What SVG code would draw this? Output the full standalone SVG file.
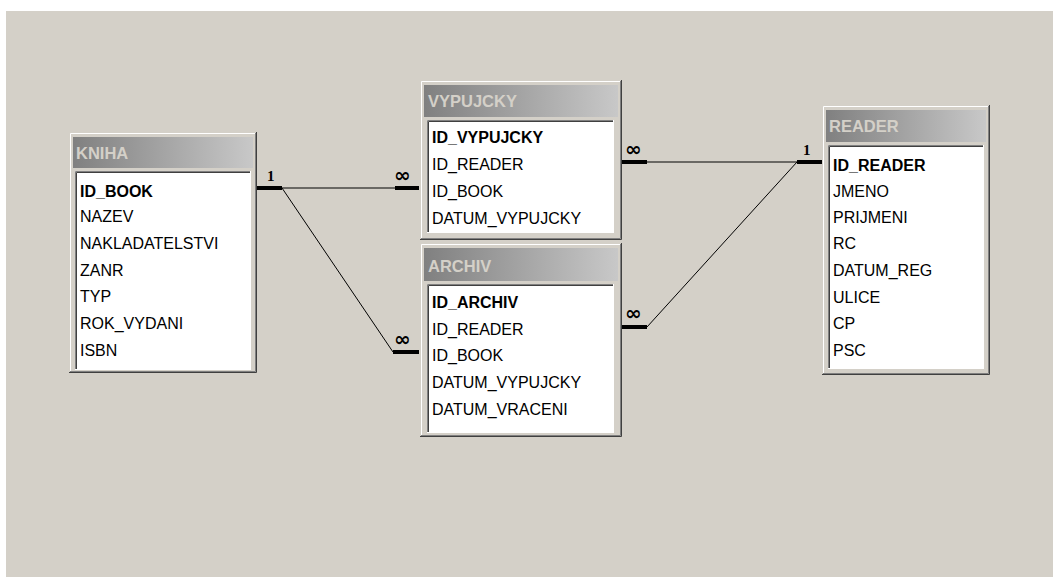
<svg xmlns="http://www.w3.org/2000/svg" width="1053" height="577" viewBox="0 0 1053 577">
<defs>
<linearGradient id="tg" x1="0" y1="0" x2="1" y2="0">
<stop offset="0" stop-color="#808080"/>
<stop offset="1" stop-color="#c8c8c8"/>
</linearGradient>
</defs>
<style>
.face{fill:#d4d0c8}
.hl{stroke:#ffffff;stroke-width:1;fill:none}
.sh1{stroke:#808080;stroke-width:1;fill:none}
.sh2{stroke:#404040;stroke-width:1;fill:none}
.title{fill:url(#tg)}
.list{fill:#ffffff}
.tt{font-family:"Liberation Sans",Arial,sans-serif;font-size:16.5px;font-weight:bold;fill:#d4d0c8}
.f{font-family:"Liberation Sans",Arial,sans-serif;font-size:16px;fill:#000}
.k{font-weight:bold}
.conn{stroke:#000;stroke-width:1;fill:none}
.stub{stroke:#000;stroke-width:4;fill:none}
.lab{font-family:"Liberation Serif","DejaVu Serif",serif;font-size:15px;font-weight:bold;fill:#000}
.inf{font-family:"DejaVu Sans","Liberation Sans",sans-serif;font-size:20px;font-weight:bold;fill:#000}
</style>
<rect x="0" y="0" width="1053" height="577" fill="#ffffff"/>
<rect x="6" y="11" width="1047" height="566" fill="#d4d0c8"/>

<g id="connectors">
<line class="stub" x1="257" y1="188" x2="282" y2="188"/>
<line class="conn" x1="282" y1="188" x2="395" y2="188"/>
<line class="stub" x1="395" y1="188" x2="419" y2="188"/>
<line class="conn" x1="282" y1="188" x2="393" y2="352"/>
<line class="stub" x1="393" y1="352" x2="419" y2="352"/>
<line class="stub" x1="622" y1="162" x2="647" y2="162"/>
<line class="conn" x1="647" y1="162" x2="797" y2="162"/>
<line class="stub" x1="797" y1="162" x2="822" y2="162"/>
<line class="stub" x1="622" y1="327" x2="647" y2="327"/>
<line class="conn" x1="647" y1="327" x2="797" y2="162"/>
<text class="lab" x="267" y="181">1</text>
<text class="inf" x="394" y="182">∞</text>
<text class="inf" x="394" y="346">∞</text>
<text class="inf" x="625" y="156">∞</text>
<text class="lab" x="803" y="155">1</text>
<text class="inf" x="625" y="320">∞</text>
</g>

<g id="kniha">
<rect class="face" x="69" y="132" width="188" height="241"/>
<path class="hl" d="M70.5,371V133.5H255"/>
<path class="sh1" d="M70,371.5H255.5V133"/>
<path class="sh2" d="M69,372.5H256.5V132"/>
<rect class="title" x="73" y="137" width="180" height="31"/>
<text class="tt" x="76" y="159">KNIHA</text>
<rect class="list" x="75" y="171" width="176" height="199"/>
<path class="sh1" d="M75.5,370V171.5H251"/>
<path class="sh2" d="M76.5,369V172.5H250"/>
<path class="hl" d="M75,369.5H250.5V171"/>
<text class="f k" x="80" y="197">ID_BOOK</text>
<text class="f" x="80" y="222">NAZEV</text>
<text class="f" x="80" y="249">NAKLADATELSTVI</text>
<text class="f" x="80" y="276">ZANR</text>
<text class="f" x="80" y="302">TYP</text>
<text class="f" x="80" y="329">ROK_VYDANI</text>
<text class="f" x="80" y="356">ISBN</text>
</g>

<g id="vypujcky">
<rect class="face" x="420" y="80" width="202" height="160"/>
<path class="hl" d="M421.5,238V81.5H620"/>
<path class="sh1" d="M421,238.5H620.5V81"/>
<path class="sh2" d="M420,239.5H621.5V80"/>
<rect class="title" x="424" y="85" width="194" height="32"/>
<text class="tt" x="428" y="107">VYPUJCKY</text>
<rect class="list" x="427" y="120" width="187" height="113"/>
<path class="sh1" d="M427.5,233V120.5H614"/>
<path class="sh2" d="M428.5,232V121.5H613"/>
<path class="hl" d="M427,232.5H613.5V120"/>
<text class="f k" x="432" y="143">ID_VYPUJCKY</text>
<text class="f" x="432" y="170">ID_READER</text>
<text class="f" x="432" y="197">ID_BOOK</text>
<text class="f" x="432" y="224">DATUM_VYPUJCKY</text>
</g>

<g id="archiv">
<rect class="face" x="420" y="243" width="202" height="194"/>
<path class="hl" d="M421.5,435V244.5H620"/>
<path class="sh1" d="M421,435.5H620.5V244"/>
<path class="sh2" d="M420,436.5H621.5V243"/>
<rect class="title" x="424" y="248" width="194" height="33"/>
<text class="tt" x="428" y="272">ARCHIV</text>
<rect class="list" x="427" y="284" width="187" height="149"/>
<path class="sh1" d="M427.5,433V284.5H614"/>
<path class="sh2" d="M428.5,432V285.5H613"/>
<path class="hl" d="M427,432.5H613.5V284"/>
<text class="f k" x="432" y="308">ID_ARCHIV</text>
<text class="f" x="432" y="335">ID_READER</text>
<text class="f" x="432" y="361">ID_BOOK</text>
<text class="f" x="432" y="388">DATUM_VYPUJCKY</text>
<text class="f" x="432" y="415">DATUM_VRACENI</text>
</g>

<g id="reader">
<rect class="face" x="822" y="105" width="168" height="270"/>
<path class="hl" d="M823.5,373V106.5H988"/>
<path class="sh1" d="M823,373.5H988.5V106"/>
<path class="sh2" d="M822,374.5H989.5V105"/>
<rect class="title" x="826" y="110" width="160" height="32"/>
<text class="tt" x="829" y="132">READER</text>
<rect class="list" x="828" y="145" width="156" height="224"/>
<path class="sh1" d="M828.5,369V145.5H984"/>
<path class="sh2" d="M829.5,368V146.5H983"/>
<path class="hl" d="M828,368.5H983.5V145"/>
<text class="f k" x="833" y="171">ID_READER</text>
<text class="f" x="833" y="197">JMENO</text>
<text class="f" x="833" y="223">PRIJMENI</text>
<text class="f" x="833" y="249">RC</text>
<text class="f" x="833" y="276">DATUM_REG</text>
<text class="f" x="833" y="303">ULICE</text>
<text class="f" x="833" y="329">CP</text>
<text class="f" x="833" y="356">PSC</text>
</g>
</svg>
